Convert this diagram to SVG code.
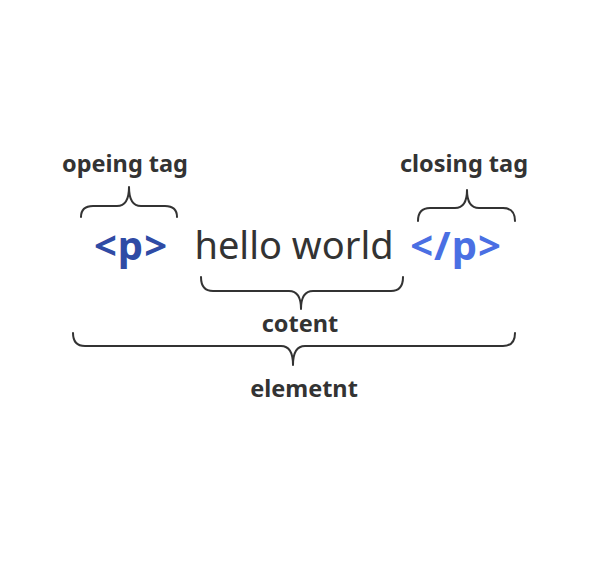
<svg xmlns="http://www.w3.org/2000/svg" width="594" height="588" viewBox="0 0 594 588">
<style>
.lbl{font-family:"Noto Sans","Open Sans",sans-serif;font-weight:bold;font-size:23.5px;fill:#333;text-anchor:middle}
.tag{font-family:"Noto Sans","Open Sans",sans-serif;font-weight:bold;font-size:40px;text-anchor:middle;letter-spacing:1px}
.txt{font-family:"Noto Sans","Open Sans",sans-serif;font-size:38px;fill:#333;text-anchor:middle}
.brace{fill:none;stroke:#333;stroke-width:2;stroke-linecap:round;stroke-linejoin:round}
</style>
<rect width="594" height="588" fill="#fff"/>
<g id="connectors">
<path class="brace" d="M81,217 Q81,206 93,206 L117,206 Q129,206 129,187 Q129,206 141,206 L165,206 Q177,206 177,217"/>
<path class="brace" d="M418,221 Q418,208 430,208 L455,208 Q467,208 467,190 Q467,208 479,208 L503,208 Q515,208 515,221"/>
<path class="brace" d="M201,277 Q201,291 213,291 L289,291 Q301,291 301,309 Q301,291 313,291 L391,291 Q403,291 403,277"/>
<path class="brace" d="M73,333 Q73,346 85,346 L281,346 Q293,346 293,365 Q293,346 305,346 L503,346 Q515,346 515,333"/>
</g>
<g id="opening-tag-label"><text class="lbl" x="125" y="172">opeing tag</text></g>
<g id="closing-tag-label"><text class="lbl" x="464" y="172">closing tag</text></g>
<g id="open-tag"><text class="tag" x="131" y="260" fill="#2f4ba5">&lt;p&gt;</text></g>
<g id="content-text"><text class="txt" x="294" y="259">hello world</text></g>
<g id="close-tag"><text class="tag" x="456" y="260" fill="#4a6fe3">&lt;/p&gt;</text></g>
<g id="content-label"><text class="lbl" x="300" y="332">cotent</text></g>
<g id="element-label"><text class="lbl" x="304" y="397">elemetnt</text></g>
</svg>
